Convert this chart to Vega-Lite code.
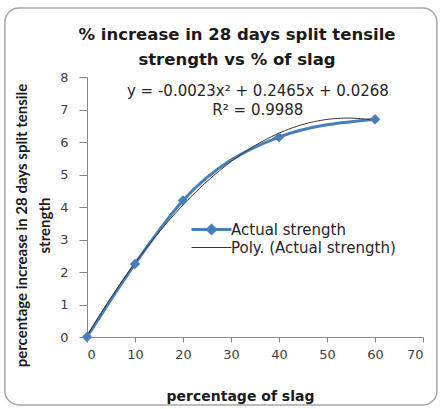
{
  "$schema": "https://vega.github.io/schema/vega-lite/v6.json",
  "width": 336,
  "height": 260,
  "autosize": {"type": "none"},
  "padding": {"left": 87, "top": 77, "right": 18, "bottom": 72},
  "background": "white",
  "config": {
    "font": "DejaVu Sans",
    "view": {"stroke": null},
    "axis": {
      "grid": false,
      "domainColor": "#868686",
      "tickColor": "#868686",
      "labelFont": "DejaVu Sans",
      "labelFontSize": 13,
      "labelColor": "#404040",
      "labelOverlap": false,
      "labelBound": false,
      "titleFontWeight": "bold",
      "titleColor": "#1a1a1a"
    },
    "axisX": {
      "tickSize": 5,
      "labelPadding": 6,
      "titleFont": "DejaVu Sans",
      "titleFontSize": 14,
      "titlePadding": 28,
      "titleX": 153
    },
    "axisY": {
      "tickSize": 8,
      "labelPadding": 11,
      "titleFont": "Lato",
      "titleFontSize": 15,
      "titlePadding": 7,
      "titleLineHeight": 23,
      "titleY": 148
    }
  },
  "title": {
    "text": ["% increase in 28 days split tensile", "strength vs % of slag"],
    "font": "DejaVu Sans",
    "fontSize": 16.5,
    "fontWeight": "bold",
    "color": "#1a1a1a",
    "offset": -61,
    "dx": -18,
    "lineHeight": 25,
    "anchor": "middle"
  },
  "datasets": {
    "strength": [
      {"slag": 0, "strength": 0},
      {"slag": 10, "strength": 2.25},
      {"slag": 20, "strength": 4.2},
      {"slag": 40, "strength": 6.15},
      {"slag": 60, "strength": 6.7}
    ],
    "frame": [{"name": "frame"}],
    "eq": [{"line1": "y = -0.0023x² + 0.2465x + 0.0268", "line2": "R² = 0.9988"}]
  },
  "layer": [
    {
      "data": {"name": "frame"},
      "mark": {"type": "rect", "fill": "transparent", "stroke": "#a6a6a6", "strokeWidth": 1.5, "cornerRadius": 14, "clip": false},
      "encoding": {
        "x": {"datum": -17.1, "type": "quantitative", "scale": {"domain": [0, 70], "nice": false, "zero": false},
              "axis": {"title": "percentage of slag", "values": [0, 10, 20, 30, 40, 50, 60, 70]}},
        "x2": {"datum": 72.9},
        "y": {"datum": 10.12, "type": "quantitative", "scale": {"domain": [0, 8], "nice": false},
              "axis": {"title": ["percentage increase in 28  days split tensile", "strength"], "values": [0, 1, 2, 3, 4, 5, 6, 7, 8]}},
        "y2": {"datum": -2.09}
      }
    },
    {
      "data": {"name": "strength"},
      "mark": {"type": "line", "strokeWidth": 3, "interpolate": "monotone"},
      "encoding": {
        "x": {"field": "slag", "type": "quantitative",
              "axis": {"title": "percentage of slag", "values": [0, 10, 20, 30, 40, 50, 60, 70]}},
        "y": {"field": "strength", "type": "quantitative",
              "axis": {"title": ["percentage increase in 28  days split tensile", "strength"], "values": [0, 1, 2, 3, 4, 5, 6, 7, 8]}},
        "color": {
          "datum": "Actual strength",
          "scale": {"domain": ["Actual strength", "Poly. (Actual strength)"], "range": ["#4a7ebb", "#333333"]},
          "legend": {
            "orient": "none",
            "legendX": 117,
            "legendY": 145,
            "title": null,
            "symbolType": "M-4,0L4,0",
            "symbolSize": 100,
            "symbolStrokeWidth": 1,
            "labelFont": "DejaVu Sans",
            "labelFontSize": 15,
            "labelColor": "#262626",
            "labelOffset": 12,
            "labelLimit": 0,
            "rowPadding": 0,
            "encode": {
              "symbols": {
                "update": {
                  "shape": {"signal": "datum.value === 'Actual strength' ? 'M-4,0L4,0M0,-0.8L0.8,0L0,0.8L-0.8,0Z' : 'M-4,0L4,0'"},
                  "strokeWidth": {"signal": "datum.value === 'Actual strength' ? 3 : 1"},
                  "fill": {"signal": "datum.value === 'Actual strength' ? '#4a7ebb' : 'transparent'"}
                }
              }
            }
          }
        }
      }
    },
    {
      "data": {"name": "strength"},
      "transform": [
        {"regression": "strength", "on": "slag", "method": "poly", "order": 2, "extent": [0, 60]}
      ],
      "mark": {"type": "line", "strokeWidth": 1, "interpolate": "monotone"},
      "encoding": {
        "x": {"field": "slag", "type": "quantitative",
              "axis": {"title": "percentage of slag", "values": [0, 10, 20, 30, 40, 50, 60, 70]}},
        "y": {"field": "strength", "type": "quantitative",
              "axis": {"title": ["percentage increase in 28  days split tensile", "strength"], "values": [0, 1, 2, 3, 4, 5, 6, 7, 8]}},
        "color": {"datum": "Poly. (Actual strength)"}
      }
    },
    {
      "data": {"name": "strength"},
      "mark": {"type": "point", "shape": "diamond", "filled": true, "size": 110, "color": "#4a7ebb", "opacity": 1},
      "encoding": {
        "x": {"field": "slag", "type": "quantitative",
              "axis": {"title": "percentage of slag", "values": [0, 10, 20, 30, 40, 50, 60, 70]}},
        "y": {"field": "strength", "type": "quantitative",
              "axis": {"title": ["percentage increase in 28  days split tensile", "strength"], "values": [0, 1, 2, 3, 4, 5, 6, 7, 8]}}
      }
    },
    {
      "data": {"name": "eq"},
      "mark": {"type": "text", "fontSize": 15, "color": "#262626", "font": "DejaVu Sans"},
      "encoding": {
        "x": {"datum": 35.6, "type": "quantitative",
              "axis": {"title": "percentage of slag", "values": [0, 10, 20, 30, 40, 50, 60, 70]}},
        "y": {"datum": 7.57, "type": "quantitative",
              "axis": {"title": ["percentage increase in 28  days split tensile", "strength"], "values": [0, 1, 2, 3, 4, 5, 6, 7, 8]}},
        "text": {"field": "line1"}
      }
    },
    {
      "data": {"name": "eq"},
      "mark": {"type": "text", "fontSize": 15, "color": "#262626", "font": "DejaVu Sans"},
      "encoding": {
        "x": {"datum": 35.6, "type": "quantitative",
              "axis": {"title": "percentage of slag", "values": [0, 10, 20, 30, 40, 50, 60, 70]}},
        "y": {"datum": 7.0, "type": "quantitative",
              "axis": {"title": ["percentage increase in 28  days split tensile", "strength"], "values": [0, 1, 2, 3, 4, 5, 6, 7, 8]}},
        "text": {"field": "line2"}
      }
    }
  ]
}
